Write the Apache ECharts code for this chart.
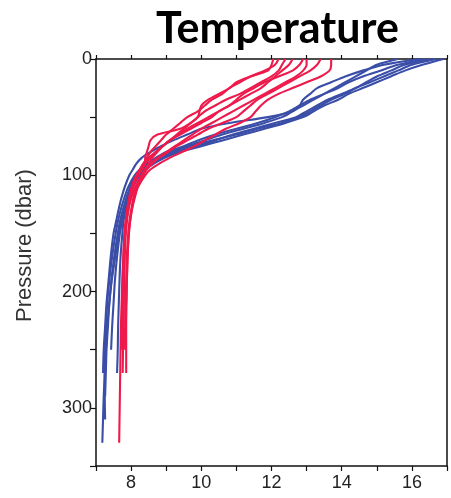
<!DOCTYPE html>
<html>
<head>
<meta charset="utf-8">
<script src="https://cdn.jsdelivr.net/npm/echarts@6/dist/echarts.min.js"></script>
<style>
html,body{margin:0;padding:0;background:#fff;}
#chart{width:451px;height:498px;}
</style>
</head>
<body>
<div id="chart"></div>
<script>
// Pressure levels (dbar), shared by all profiles
var pressure = [0,5,10,15,20,25,30,35,40,45,50,55,60,65,70,75,80,85,90,95,100,110,120,130,140,150,170,190,210,230,250,270,290,310,330];

// Blue profiles (temperature, °C), null = below end of cast
var blue1 = [16.9,16.3,15.8,15.4,15.0,14.6,14.2,13.9,13.5,13.2,12.9,12.4,11.8,11.2,10.6,10.0,9.4,8.95,8.65,8.4,8.25,8.05,7.92,7.84,7.78,7.75,7.7,7.67,7.65,7.63,7.62,7.6,null,null,null];
var blue2 = [16.6,15.8,15.4,15.0,14.7,14.4,14.0,13.6,13.3,13.0,12.7,12.1,11.5,10.9,10.4,9.9,9.3,8.9,8.6,8.35,8.2,8.0,7.9,7.8,7.72,7.65,7.55,7.45,7.38,7.32,7.28,7.25,7.22,7.2,7.18];
var blue3 = [16.4,15.6,15.1,14.6,14.2,13.9,13.5,13.1,12.8,12.5,12.1,11.6,11.0,10.4,9.9,9.5,9.0,8.7,8.45,8.25,8.1,7.92,7.8,7.7,7.62,7.56,7.46,7.38,7.32,7.28,7.26,7.25,7.25,7.26,null];
var blue4 = [16.2,15.2,14.6,14.1,13.7,13.3,13.1,12.9,12.8,12.6,11.9,10.8,10.0,9.6,9.2,8.85,8.55,8.3,8.15,8.05,7.95,7.82,7.72,7.64,7.57,7.5,7.42,7.36,7.3,7.26,7.22,7.2,null,null,null];
var blue5 = [15.6,15.0,14.7,14.4,14.1,13.8,13.5,13.2,12.9,12.6,12.3,11.8,11.2,10.6,10.1,9.6,9.1,8.75,8.5,8.3,8.15,7.98,7.86,7.76,7.68,7.62,7.52,7.44,7.38,7.34,7.3,7.28,7.26,null,null];
var blue6 = [16.7,16.0,15.6,15.2,14.8,14.4,14.1,13.7,13.4,13.1,12.8,12.3,11.6,11.0,10.3,9.7,9.2,8.8,8.5,8.3,8.15,7.98,7.88,7.8,7.74,7.68,7.6,7.54,7.5,7.46,7.43,null,null,null,null];

// Red profiles (temperature, °C)
var red1 = [13.7,13.7,13.65,13.4,13.0,12.6,12.2,11.9,11.7,11.55,11.4,11.1,10.7,10.4,10.1,9.8,9.45,9.1,8.8,8.55,8.4,8.2,8.1,8.02,7.97,7.93,7.9,7.88,7.87,7.86,7.86,7.86,null,null,null];
var red2 = [13.0,13.0,12.9,12.7,12.4,12.1,11.8,11.5,11.2,10.9,10.6,10.3,10.0,9.75,9.5,9.25,9.0,8.75,8.55,8.4,8.3,8.12,8.0,7.92,7.86,7.82,7.78,7.75,7.73,7.71,7.7,7.69,7.68,7.67,7.66];
var red3 = [12.9,12.8,12.6,12.2,11.8,11.5,11.2,11.0,10.8,10.5,10.3,10.0,9.7,9.4,9.1,8.9,8.7,8.5,8.35,8.25,8.15,8.02,7.94,7.88,7.84,7.81,7.78,7.76,7.75,7.74,7.74,null,null,null,null];
var red4 = [12.05,12.0,11.9,11.4,11.0,10.8,10.5,10.2,10.0,9.95,9.9,9.7,9.4,8.75,8.55,8.5,8.45,8.4,8.4,8.3,8.2,8.05,7.97,7.9,7.85,7.82,7.8,7.79,7.78,7.78,null,null,null,null,null];
var red5 = [12.4,12.3,12.2,12.0,11.7,11.4,11.1,10.7,10.4,10.1,9.9,9.7,9.5,9.3,9.1,8.9,8.7,8.55,8.4,8.3,8.2,8.06,7.98,7.92,7.88,7.85,7.82,7.8,7.79,7.78,7.77,7.76,null,null,null];
var red6 = [12.6,12.5,12.3,12.1,11.9,11.7,11.4,11.1,10.8,10.5,10.2,9.9,9.6,9.35,9.1,8.9,8.75,8.6,8.5,8.4,8.3,8.15,8.06,8.0,7.95,7.92,7.88,7.86,7.84,7.83,7.82,null,null,null,null];
var red7 = [13.4,13.3,13.1,12.8,12.5,12.2,11.9,11.6,11.4,11.2,11.0,10.6,10.2,9.9,9.6,9.3,9.05,8.8,8.6,8.45,8.35,8.18,8.08,8.02,7.97,7.94,7.9,7.88,7.86,null,null,null,null,null,null];
var red8 = [12.2,12.1,11.8,11.4,11.1,10.8,10.6,10.3,10.1,9.9,9.6,9.4,9.2,9.0,8.85,8.7,8.55,8.45,8.35,8.25,8.15,8.03,7.95,7.9,7.86,7.83,7.8,7.78,7.76,7.75,null,null,null,null,null];

var blueProfiles = [blue1, blue2, blue3, blue4, blue5, blue6];
var redProfiles = [red1, red2, red3, red4, red5, red6, red7, red8];

var xTicks = [8, 10, 12, 14, 16];
var yTicks = [0, 100, 200, 300];

var BLUE = '#3a4ea8';
var RED = '#ee1a4c';

function toPairs(temps) {
  var out = [];
  for (var i = 0; i < pressure.length; i++) {
    if (temps[i] !== null) out.push([temps[i], pressure[i]]);
  }
  return out;
}

var series = [];
blueProfiles.forEach(function (p, i) {
  series.push({
    name: 'blue' + (i + 1), type: 'line', data: toPairs(p), showSymbol: false,
    smooth: 0.3, xAxisIndex: 0, yAxisIndex: 0,
    lineStyle: { color: BLUE, width: 2.1 }, z: 2, silent: true
  });
});
redProfiles.forEach(function (p, i) {
  series.push({
    name: 'red' + (i + 1), type: 'line', data: toPairs(p), showSymbol: false,
    smooth: 0.3, xAxisIndex: 0, yAxisIndex: 0,
    lineStyle: { color: RED, width: 2.1 }, z: 3, silent: true
  });
});

var labelFont = { fontFamily: 'Liberation Sans, Arial, sans-serif', fontSize: 18, color: '#222' };

var chart = echarts.init(document.getElementById('chart'), null, { renderer: 'canvas' });
chart.setOption({
  animation: false,
  backgroundColor: '#fff',
  title: {
    text: 'Temperature', left: 151, top: 3,
    textStyle: { fontFamily: 'Lato', fontWeight: 'bold', fontSize: 43, color: '#000' }
  },
  grid: { left: 96, top: 59, right: 4, bottom: 32, containLabel: false },
  xAxis: [{
    type: 'value', min: 7, max: 17, interval: 1, position: 'bottom',
    axisLine: { show: true, onZero: false, lineStyle: { color: '#111', width: 1.5 } },
    axisTick: { show: true, inside: false, length: 5, lineStyle: { color: '#111', width: 1.2 } },
    axisLabel: Object.assign({ margin: 8, formatter: function (v) { return xTicks.indexOf(v) >= 0 ? String(v) : ''; } }, labelFont),
    splitLine: { show: false }
  }, {
    type: 'value', min: 7, max: 17, interval: 1, position: 'top',
    axisLine: { show: true, onZero: false, lineStyle: { color: '#111', width: 1.5 } },
    axisTick: { show: true, inside: false, length: 4, lineStyle: { color: '#111', width: 1.2 } },
    axisLabel: { show: false }, splitLine: { show: false }
  }],
  yAxis: [{
    type: 'value', inverse: true, min: 0, max: 350, interval: 50, position: 'left',
    name: 'Pressure (dbar)', nameLocation: 'middle', nameGap: 60,
    nameTextStyle: { fontFamily: 'Liberation Sans, Arial, sans-serif', fontSize: 22, color: '#333', padding: [0, 0, 0, 34] },
    axisLine: { show: true, onZero: false, lineStyle: { color: '#111', width: 1.5 } },
    axisTick: { show: true, inside: false, length: 6, lineStyle: { color: '#111', width: 1.2 } },
    axisLabel: Object.assign({ margin: 4, formatter: function (v) { return yTicks.indexOf(v) >= 0 ? String(v) : ''; } }, labelFont),
    splitLine: { show: false }
  }, {
    type: 'value', inverse: true, min: 0, max: 350, position: 'right',
    axisLine: { show: true, onZero: false, lineStyle: { color: '#111', width: 1.5 } },
    axisTick: { show: false }, axisLabel: { show: false }, splitLine: { show: false }
  }],
  series: series
});
</script>
</body>
</html>
